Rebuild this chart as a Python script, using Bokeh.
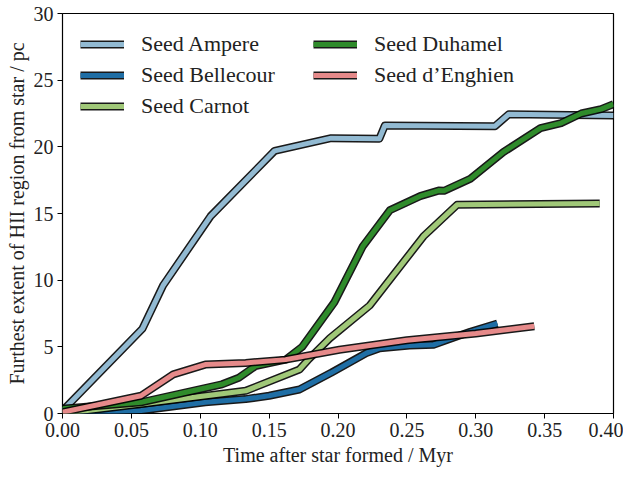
from bokeh.plotting import figure
from bokeh.models import Legend, LegendItem, Range1d, FixedTicker
from bokeh.embed import file_html
from bokeh.resources import INLINE

# Data (Time after star formed / Myr, furthest extent / pc)
ampere_t = [0.0, 0.058, 0.073, 0.1075, 0.154, 0.195, 0.230, 0.234, 0.314, 0.324, 0.40]
ampere_r = [0.2, 6.35, 9.6, 14.8, 19.7, 20.65, 20.6, 21.6, 21.55, 22.45, 22.35]

bellecour_t = [0.0, 0.057, 0.1036, 0.133, 0.15, 0.172, 0.195, 0.2206, 0.2303, 0.252, 0.2693, 0.279, 0.296, 0.3157]
bellecour_r = [0.0, 0.22, 0.84, 1.08, 1.33, 1.8, 3.05, 4.53, 4.9, 5.1, 5.15, 5.52, 6.13, 6.75]

carnot_t = [0.0, 0.057, 0.133, 0.172, 0.179, 0.194, 0.223, 0.262, 0.2864, 0.39]
carnot_r = [0.0, 0.71, 1.7, 3.3, 4.1, 5.64, 8.1, 13.28, 15.65, 15.75]

duhamel_t = [0.0, 0.057, 0.1158, 0.128, 0.140, 0.162, 0.174, 0.1974, 0.218, 0.2377, 0.2596, 0.273, 0.277, 0.296, 0.320, 0.347, 0.362, 0.3766, 0.391, 0.40]
duhamel_r = [0.35, 0.84, 2.19, 2.68, 3.55, 4.04, 5.0, 8.35, 12.54, 15.25, 16.3, 16.72, 16.7, 17.6, 19.6, 21.4, 21.78, 22.5, 22.83, 23.2]

enghien_t = [0.0, 0.057, 0.0804, 0.1036, 0.133, 0.162, 0.201, 0.25, 0.30, 0.3425]
enghien_r = [0.1, 1.33, 2.93, 3.67, 3.79, 4.04, 4.78, 5.5, 6.0, 6.55]

names = ["Seed Ampere", "Seed Bellecour", "Seed Carnot", "Seed Duhamel", "Seed d\u2019Enghien"]
colors = ["#92bad2", "#1f6ea5", "#a0c878", "#2f8b2b", "#e68a8a"]
series = [(ampere_t, ampere_r), (bellecour_t, bellecour_r), (carnot_t, carnot_r),
          (duhamel_t, duhamel_r), (enghien_t, enghien_r)]

x_ticks = [0.0, 0.05, 0.10, 0.15, 0.20, 0.25, 0.30, 0.35, 0.40]
y_ticks = [0, 5, 10, 15, 20, 25, 30]

FONT = "Liberation Serif"

p = figure(output_backend="svg", toolbar_location=None,
           width=623, height=468,
           min_border_left=62, min_border_right=10, min_border_top=13, min_border_bottom=50,
           x_range=Range1d(0, 0.40), y_range=Range1d(0, 30))
p.outline_line_color = "black"
p.outline_line_width = 1.2
p.grid.visible = False
p.background_fill_color = "white"
p.border_fill_color = "white"

items = []
for (t, r), name, c in zip(series, names, colors):
    rb = p.line(t, r, line_color="black", line_width=8, line_join="round", line_alpha=0.9)
    rc = p.line(t, r, line_color=c, line_width=5, line_join="round")
    items.append(LegendItem(label=name, renderers=[rb, rc]))

legend = Legend(items=items, location="top_left", ncols=2,
                label_text_font=FONT, label_text_font_size="22px",
                label_text_color="#222222",
                border_line_color=None, background_fill_alpha=0,
                glyph_width=44, glyph_height=18, label_standoff=17,
                label_width=167, label_height=18,
                spacing=5, padding=8, margin=18)
p.add_layout(legend, "center")

for ax in (p.xaxis[0], p.yaxis[0]):
    ax.major_label_text_font = FONT
    ax.major_label_text_font_size = "20px"
    ax.major_label_text_color = "#222222"
    ax.axis_label_text_font = FONT
    ax.axis_label_text_font_size = "20px"
    ax.axis_label_text_font_style = "normal"
    ax.axis_label_text_color = "#222222"
    ax.minor_tick_line_color = None
    ax.major_tick_out = 5
    ax.major_tick_in = 0
    ax.axis_line_color = None

p.xaxis[0].ticker = FixedTicker(ticks=x_ticks)
p.xaxis[0].major_label_overrides = {v: f"{v:.2f}" for v in x_ticks}
p.yaxis[0].ticker = FixedTicker(ticks=y_ticks)
p.xaxis[0].axis_label = "Time after star formed / Myr"
p.yaxis[0].axis_label = "Furthest extent of HII region from star / pc"
p.xaxis[0].axis_label_standoff = 4
p.yaxis[0].axis_label_standoff = 3
p.xaxis[0].major_label_standoff = 4
p.yaxis[0].major_label_standoff = 4

open("out.html", "w").write(file_html(p, INLINE))
